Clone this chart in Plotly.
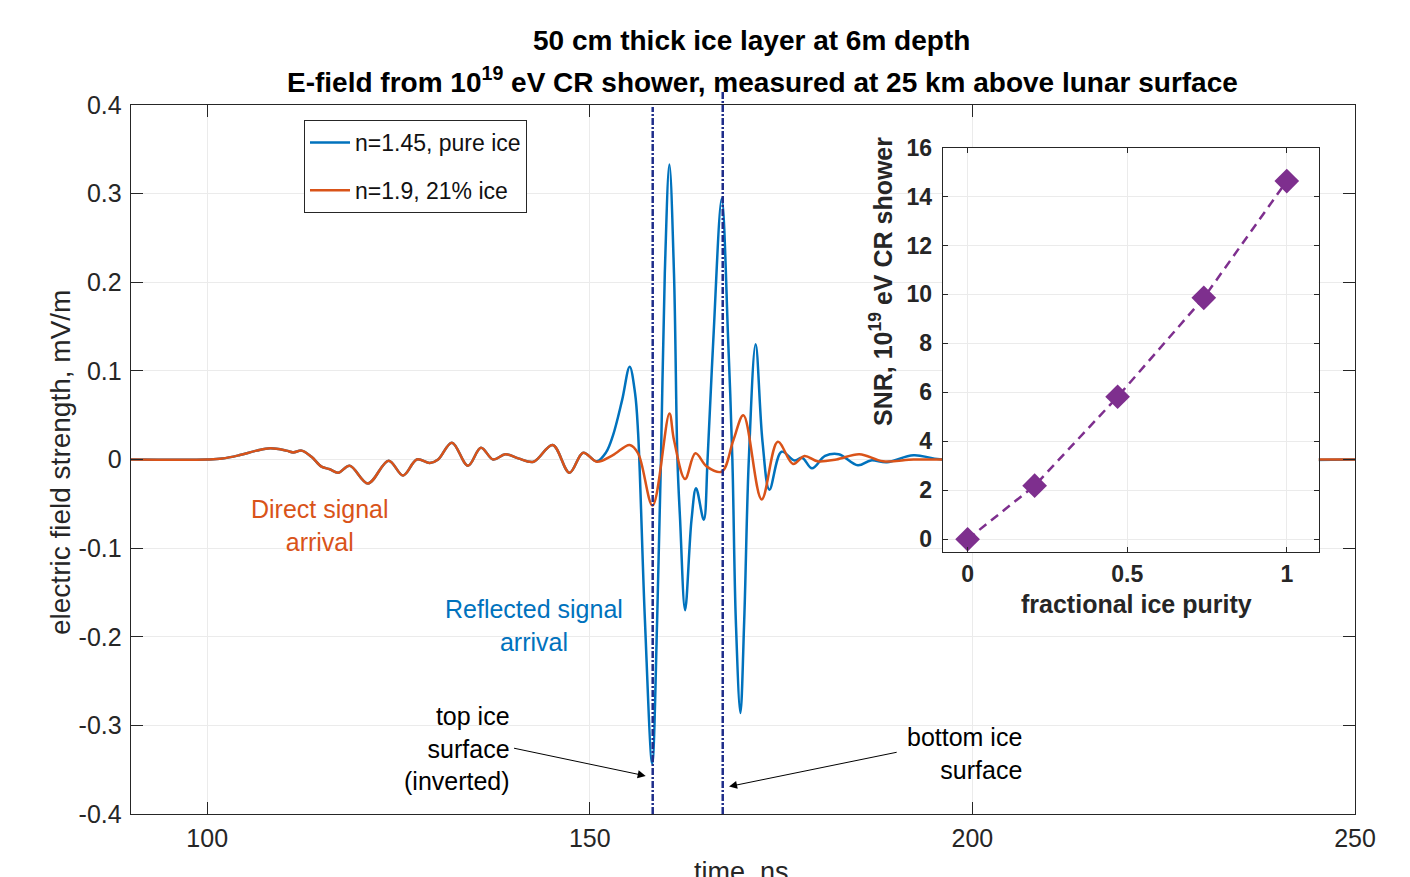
import plotly.graph_objects as go

# ---------------- data ----------------
# n=1.9, 21% ice (orange) : time (ns) and E-field (mV/m)
t_mix = [90, 99.97, 101.97, 104.26, 106.45, 108.25, 110.34, 111.24, 112.34, 113.63, 114.93, 116.03,
         117.12, 118.62, 121.01, 123.70, 125.60, 127.39, 129.09, 130.18, 131.98, 134.07, 135.77,
         137.36, 138.96, 140.65, 142.65, 145.14, 147.34, 149.13, 150.92, 153.02, 155.21, 156.31,
         158.20, 160.40, 161.00, 162.45, 163.80, 165.29, 167.24, 168.77, 170.07, 172.46, 174.57,
         176.56, 178.05, 179.74, 182.23, 185.23, 188.32, 192.31, 196.09, 250]
e_mix = [0, 0, 0.001, 0.005, 0.010, 0.0126, 0.010, 0.008, 0.010, 0.003, -0.008, -0.011, -0.015,
         -0.007, -0.027, -0.0013, -0.018, 0.0, -0.004, 0.0, 0.019, -0.007, 0.0133, 0.0, 0.006,
         0.0013, -0.0025, 0.0164, -0.015, 0.0077, -0.0025, 0.005, 0.0164, 0.007, -0.052, 0.052, 0.022,
         -0.022, 0.007, -0.008, -0.0137, 0.022, 0.050, -0.045, 0.020, -0.005, 0.004, -0.002, 0.0,
         0.006, -0.002, 0.0, 0.0, 0.0]

# n=1.45, pure ice (blue) : identical to orange before ~147 ns (hidden beneath it)
t_pure = [90, 99.97, 101.97, 104.26, 106.45, 108.25, 110.34, 111.24, 112.34, 113.63, 114.93, 116.03,
          117.12, 118.62, 121.01, 123.70, 125.60, 127.39, 129.09, 130.18, 131.98, 134.07, 135.77,
          137.36, 138.96, 140.65, 142.65, 145.14, 147.34, 149.13, 150.92, 152.12, 153.02, 154.22,
          155.21, 155.91, 156.31, 157.20, 158.15, 158.80, 159.30, 159.80, 160.40, 161.00, 161.45,
          161.80, 162.45, 163.29, 163.89, 164.89, 165.39, 166.14, 167.24, 168.08, 168.63, 169.08,
          169.68, 170.18, 170.78, 171.67, 172.57, 173.47, 175.06, 176.75, 177.75, 179.04, 180.74,
          182.53, 185.03, 186.73, 188.82, 192.31, 196.09, 250]
e_pure = [0, 0, 0.001, 0.005, 0.010, 0.0126, 0.010, 0.008, 0.010, 0.003, -0.008, -0.011, -0.015,
          -0.007, -0.027, -0.0013, -0.018, 0.0, -0.004, 0.0, 0.019, -0.007, 0.0133, 0.0, 0.006,
          0.0013, -0.0025, 0.0164, -0.015, 0.0077, -0.002, 0.008, 0.027, 0.067, 0.1047, 0.075, 0.03,
          -0.181, -0.343, -0.181, 0.0, 0.21, 0.333, 0.21, 0.0, -0.068, -0.170, -0.068, -0.0325,
          -0.068, 0.0, 0.135, 0.2946, 0.135, 0.0, -0.181, -0.286, -0.181, 0.0, 0.130, 0.02,
          -0.034, 0.0088, -0.001, 0.002, -0.010, 0.004, 0.006, -0.0065, -0.001, -0.003, 0.0047, 0.0, 0.0]

# reflection arrival times (ns): top ice surface, bottom ice surface
boundary_times = [158.22, 167.37]

# inset: SNR vs fractional ice purity
purity = [0.0, 0.21, 0.47, 0.74, 1.0]
snr = [0.0, 2.19, 5.82, 9.86, 14.63]

x_ticks = [100, 150, 200, 250]
x_ticktext = ["100", "150", "200", "250"]
y_ticks = [-0.4, -0.3, -0.2, -0.1, 0, 0.1, 0.2, 0.3, 0.4]
y_ticktext = ["-0.4", "-0.3", "-0.2", "-0.1", "0", "0.1", "0.2", "0.3", "0.4"]
ix_ticks = [0, 0.5, 1]
ix_ticktext = ["0", "0.5", "1"]
iy_ticks = [0, 2, 4, 6, 8, 10, 12, 14, 16]

# ---------------- styling ----------------
W, H = 1410, 877
OFF = 8  # page body margin
FONT = "Liberation Sans, Arial, Helvetica, sans-serif"
BLUE = "#0072BD"
ORANGE = "#D95319"
PURPLE = "#7E2F8E"
NAVY = "#1f2d8a"
AX = "#262626"
GRID = "#ebebeb"


def px(xp):
    return (xp - OFF) / W


def py(yp):
    return 1 - (yp - OFF) / H


fig = go.Figure()

fig.add_trace(go.Scatter(x=t_pure, y=e_pure, mode="lines", name="n=1.45, pure ice",
                         line=dict(color=BLUE, width=2.5, shape="spline", smoothing=1.0),
                         legendgroup="a", xaxis="x", yaxis="y"))
fig.add_trace(go.Scatter(x=t_mix, y=e_mix, mode="lines", name="n=1.9, 21% ice",
                         line=dict(color=ORANGE, width=2.5, shape="spline", smoothing=1.0),
                         legendgroup="b", xaxis="x", yaxis="y"))
fig.add_trace(go.Scatter(x=purity, y=snr, mode="lines+markers", showlegend=False,
                         line=dict(color=PURPLE, width=2.5, dash="9px,6px"),
                         marker=dict(symbol="diamond", size=19, color=PURPLE),
                         xaxis="x2", yaxis="y2"))

# vertical dash-dot lines at the reflection arrivals
tops = [py(107), py(90)]
for tb, top in zip(boundary_times, tops):
    fig.add_shape(type="line", xref="x", yref="paper", x0=tb, x1=tb, y0=py(814), y1=top,
                  line=dict(color=NAVY, width=2.5, dash="7px,2px,2px,2px"), layer="above")

main_dom_x = [px(130.7), px(1355)]
main_dom_y = [py(814), py(105)]
ins_dom_x = [px(942.7), px(1318.7)]
ins_dom_y = [py(552), py(147.5)]

common_axis = dict(showline=True, linecolor=AX, linewidth=1, mirror="ticks", ticks="inside",
                   tickcolor=AX, zeroline=False, showgrid=True, gridcolor=GRID, gridwidth=1,
                   automargin=False)

fig.update_layout(
    width=W, height=H,
    autosize=False,
    margin=dict(l=0, r=0, t=0, b=0, pad=0, autoexpand=False),
    paper_bgcolor="white", plot_bgcolor="white",
    font=dict(family=FONT, color=AX),
    showlegend=True,
    legend=dict(x=px(304), y=py(120), xanchor="left", yanchor="top",
                bgcolor="white", bordercolor=AX, borderwidth=1,
                font=dict(size=23, color="#111111", family=FONT),
                tracegroupgap=15, itemwidth=40),
    xaxis=dict(domain=main_dom_x, range=[90, 250], tickvals=x_ticks, ticktext=x_ticktext,
               ticklen=12, tickfont=dict(size=25, color=AX), ticklabelstandoff=2,
               anchor="y", **common_axis),
    yaxis=dict(domain=main_dom_y, range=[-0.4, 0.4], tickvals=y_ticks, ticktext=y_ticktext,
               ticklen=12, tickfont=dict(size=25, color=AX), ticklabelstandoff=3,
               anchor="x", **common_axis),
    xaxis2=dict(domain=ins_dom_x, range=[-0.078, 1.1], tickvals=ix_ticks, ticktext=ix_ticktext,
                ticklen=5, tickfont=dict(size=23, color=AX, weight="bold"), ticklabelstandoff=1,
                anchor="y2", **common_axis),
    yaxis2=dict(domain=ins_dom_y, range=[-0.52, 16], tickvals=iy_ticks,
                ticklen=5, tickfont=dict(size=23, color=AX, weight="bold"), ticklabelstandoff=5,
                anchor="x2", **common_axis),
)

ann = []
# titles
ann.append(dict(text="<b>50 cm thick ice layer at 6m depth</b>", x=px(751), y=py(40),
                xref="paper", yref="paper", showarrow=False, xanchor="center", yanchor="middle",
                font=dict(size=28, color="black")))
ann.append(dict(text="<b>E-field from 10<sup>19</sup> eV CR shower, measured at 25 km above lunar surface</b>",
                x=px(762), y=py(80), xref="paper", yref="paper", showarrow=False,
                xanchor="center", yanchor="middle", font=dict(size=28, color="black")))
# axis titles
ann.append(dict(text="electric field strength, mV/m", x=px(60), y=py(463), xref="paper", yref="paper",
                showarrow=False, textangle=-90, xanchor="center", yanchor="middle",
                font=dict(size=28, color=AX)))
ann.append(dict(text="time, ns", x=px(741), y=py(872), xref="paper", yref="paper",
                showarrow=False, xanchor="center", yanchor="middle", font=dict(size=27, color=AX)))
ann.append(dict(text="<b>fractional ice purity</b>", x=px(1136), y=py(604), xref="paper", yref="paper",
                showarrow=False, xanchor="center", yanchor="middle", font=dict(size=25, color=AX)))
ann.append(dict(text="<b>SNR, 10<sup>19</sup> eV CR shower</b>", x=px(881), y=py(281), xref="paper",
                yref="paper", showarrow=False, textangle=-90, xanchor="center", yanchor="middle",
                font=dict(size=25, color=AX)))
# text labels
ann.append(dict(text="Direct signal<br>arrival", x=px(320), y=py(525), xref="paper", yref="paper",
                showarrow=False, align="center", xanchor="center", yanchor="middle",
                font=dict(size=25, color=ORANGE)))
ann.append(dict(text="Reflected signal<br>arrival", x=px(534), y=py(625), xref="paper", yref="paper",
                showarrow=False, align="center", xanchor="center", yanchor="middle",
                font=dict(size=25, color=BLUE)))
ann.append(dict(text="top ice<br>surface<br>(inverted)", x=px(512), y=py(748), xref="paper", yref="paper",
                showarrow=False, align="right", xanchor="right", yanchor="middle",
                font=dict(size=25, color="black")))
ann.append(dict(text="bottom ice<br>surface", x=px(1024), y=py(753), xref="paper", yref="paper",
                showarrow=False, align="right", xanchor="right", yanchor="middle",
                font=dict(size=25, color="black")))
# arrows
ann.append(dict(text="", x=157.3, y=-0.357, xref="x", yref="y", ax=139.9, ay=-0.3254,
                axref="x", ayref="y", showarrow=True, arrowhead=2, arrowsize=1.6, arrowwidth=1,
                arrowcolor="black"))
ann.append(dict(text="", x=168.2, y=-0.369, xref="x", yref="y", ax=190.3, ay=-0.330,
                axref="x", ayref="y", showarrow=True, arrowhead=2, arrowsize=1.6, arrowwidth=1,
                arrowcolor="black"))
fig.update_layout(annotations=ann)

fig.write_html("out.html")
